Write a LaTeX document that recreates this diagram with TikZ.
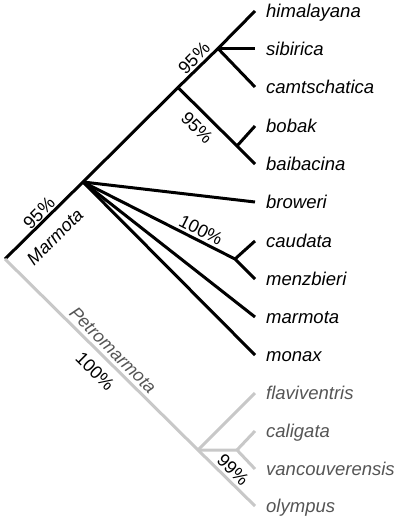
\documentclass[tikz,border=0pt]{standalone}
\usepackage{fontspec}
\setmainfont{Liberation Sans}
\definecolor{lgray}{RGB}{200,200,200}
\definecolor{tgray}{RGB}{85,85,85}
\begin{document}
\begin{tikzpicture}[x=1pt,y=-1pt,
  blk/.style={line width=3pt,black,line cap=butt,line join=miter},
  gry/.style={line width=3pt,lgray,line cap=butt,line join=miter},
  taxon/.style={anchor=base west,inner sep=0pt,font=\fontsize{18.5}{20}\selectfont\itshape},
  gtaxon/.style={taxon,text=tgray},
  sup/.style={inner sep=0pt,font=\fontsize{18}{20}\selectfont}]
\useasboundingbox (0,0) rectangle (400,519);
% junctions and tips
\coordinate (root) at (5,259);
\coordinate (mar) at (83,182);
\coordinate (nBob) at (178,87.5);
\coordinate (nSib) at (218,48.5);
\coordinate (tHim) at (255,11);
\coordinate (tSib) at (255,48.5);
\coordinate (tCam) at (255,87);
\coordinate (jBob) at (237,146);
\coordinate (tBob) at (255,126);
\coordinate (tBai) at (255,164);
\coordinate (tBro) at (255,202);
\coordinate (nCau) at (235,259);
\coordinate (tCau) at (255,241);
\coordinate (tMen) at (255,279);
\coordinate (tMar) at (255,317);
\coordinate (tMon) at (255,355);
\coordinate (nPet) at (198,450);
\coordinate (nCal) at (237,450);
\coordinate (tFla) at (255,393);
\coordinate (tCal) at (255,431);
\coordinate (tVan) at (255,469);
\coordinate (tOly) at (255,506);
% black tree
\draw[blk] (root) -- (mar) -- (nBob) -- (nSib) -- (tHim);
\draw[blk] (nSib) -- (tSib);
\draw[blk] (nSib) -- (tCam);
\draw[blk] (nBob) -- (jBob) -- (tBai);
\draw[blk] (jBob) -- (tBob);
\draw[blk] (mar) -- (tBro);
\draw[blk] (mar) -- (nCau) -- (tMen);
\draw[blk] (nCau) -- (tCau);
\draw[blk] (mar) -- (tMar);
\draw[blk] (mar) -- (tMon);
% gray tree
\draw[gry] (root) -- (nPet) -- (tOly);
\draw[gry] (nPet) -- (tFla);
\draw[gry] (nPet) -- (nCal) -- (tVan);
\draw[gry] (nCal) -- (tCal);
% taxa
\node[taxon] (lHim) at (266,17.5) {himalayana};
\node[taxon] (lSib) at (266,55.5) {sibirica};
\node[taxon] (lCam) at (266,93.5) {camtschatica};
\node[taxon] (lBob) at (266,132.5) {bobak};
\node[taxon] (lBai) at (266,170.5) {baibacina};
\node[taxon] (lBro) at (266,208.5) {broweri};
\node[taxon] (lCau) at (266,247.5) {caudata};
\node[taxon] (lMen) at (266,285.5) {menzbieri};
\node[taxon] (lMar) at (266,323.5) {marmota};
\node[taxon] (lMon) at (266,361.5) {monax};
\node[gtaxon] (lFla) at (266,399.5) {flaviventris};
\node[gtaxon] (lCal) at (266,437.5) {caligata};
\node[gtaxon] (lVan) at (266,475.5) {vancouverensis};
\node[gtaxon] (lOly) at (266,512.5) {olympus};
% support values and clade names
\node[sup,rotate=45] (s1) at (194,58) {95\%};
\node[sup,rotate=-45] (s2) at (197,128) {95\%};
\node[sup,rotate=45] (s3) at (39,213) {95\%};
\node[sup,rotate=45,font=\fontsize{18}{20}\selectfont\itshape] (cMar) at (55,237) {Marmota};
\node[sup,rotate=-27] (s4) at (201,230) {100\%};
\node[sup,rotate=-45,text=tgray,font=\fontsize{18}{20}\selectfont\itshape] (cPet) at (113,350) {Petromarmota};
\node[sup,rotate=-45] (s5) at (95,371) {100\%};
\node[sup,rotate=-45] (s6) at (233,470) {99\%};
\end{tikzpicture}
\end{document}
